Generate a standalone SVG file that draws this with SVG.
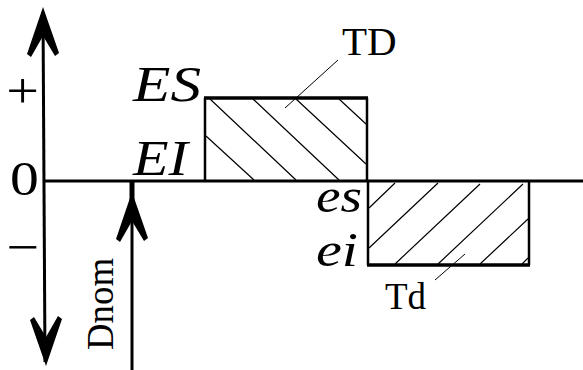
<svg xmlns="http://www.w3.org/2000/svg" xmlns:xlink="http://www.w3.org/1999/xlink" width="583" height="370" viewBox="0 0 583 370">
<style>
text{font-family:'Liberation Serif','DejaVu Serif',serif;fill:#000}
.i{font-style:italic}
.ax{stroke:#000;stroke-width:3;fill:none;stroke-linecap:butt}
.bd{stroke:#000;stroke-width:2.5;fill:none}
.tk{stroke:#000;stroke-width:3.5;fill:none}
.h{stroke:#000;stroke-width:1.2;fill:none}
.ld{stroke:#000;stroke-width:1;fill:none}
</style>
<defs>
<path id="ah" d="M0,0 L16,46 L12,49 L0,29 L-12,50 L-16,47 Z" fill="#000"/>
</defs>
<rect width="583" height="370" fill="#fff"/>
<g id="connectors">
<path class="ax" d="M43,12 L45,362"/>
<path class="ax" d="M43,181 H583"/>
<path class="ax" d="M132,181 V370"/>
<path stroke="#000" stroke-width="5" d="M132,182 V212"/>
<use xlink:href="#ah" transform="translate(43,7)"/>
<use xlink:href="#ah" transform="translate(46,366) rotate(180)"/>
<use xlink:href="#ah" transform="translate(132,192)"/>
<path class="ld" d="M338,60 L285,108"/>
<path class="ld" d="M435,280 L465,254"/>
</g>
<g id="axis-labels" font-family="'Liberation Serif', serif">
<text font-size="50" text-anchor="middle" transform="translate(22.5,108) scale(1.16,1)">+</text>
<text font-size="48" text-anchor="middle" transform="translate(24.5,194.5) scale(1.2,1)">0</text>
<text font-size="50" text-anchor="middle" transform="translate(22.5,264) scale(1.16,1)">−</text>
</g>
<g id="TD-zone">
<path class="bd" d="M205,181 V98 M367,98 V181"/>
<path class="tk" d="M204,98 H368"/>
<path class="h" d="M206,136 L254,180 M210,99 L296,180 M253,99 L339,180 M296,99 L366,164 M339,99 L366,124"/>
</g>
<g id="Td-zone">
<path class="bd" d="M368,181 V265 M529,181 V265"/>
<path class="tk" d="M367,265 H530"/>
<path class="h" d="M369,208 L395,183 M369,248 L438,183 M395,264 L480,184 M438,264 L523,184 M480,264 L528,219 M522,264 L528,258"/>
</g>
<g id="labels" font-family="'Liberation Serif', serif">
<text class="i" font-size="50" x="133" y="101" textLength="68" lengthAdjust="spacingAndGlyphs">ES</text>
<text class="i" font-size="50" x="133" y="175" textLength="55" lengthAdjust="spacingAndGlyphs">EI</text>
<text class="i" font-size="48" x="316" y="212" textLength="46" lengthAdjust="spacingAndGlyphs">es</text>
<text class="i" font-size="48" x="316" y="266" textLength="42" lengthAdjust="spacingAndGlyphs">ei</text>
<text font-size="41" x="342" y="55">TD</text>
<text font-size="37" x="385" y="309">Td</text>
<text font-size="38" transform="translate(113,350) rotate(-90)" textLength="92" lengthAdjust="spacingAndGlyphs">Dnom</text>
</g>
</svg>
